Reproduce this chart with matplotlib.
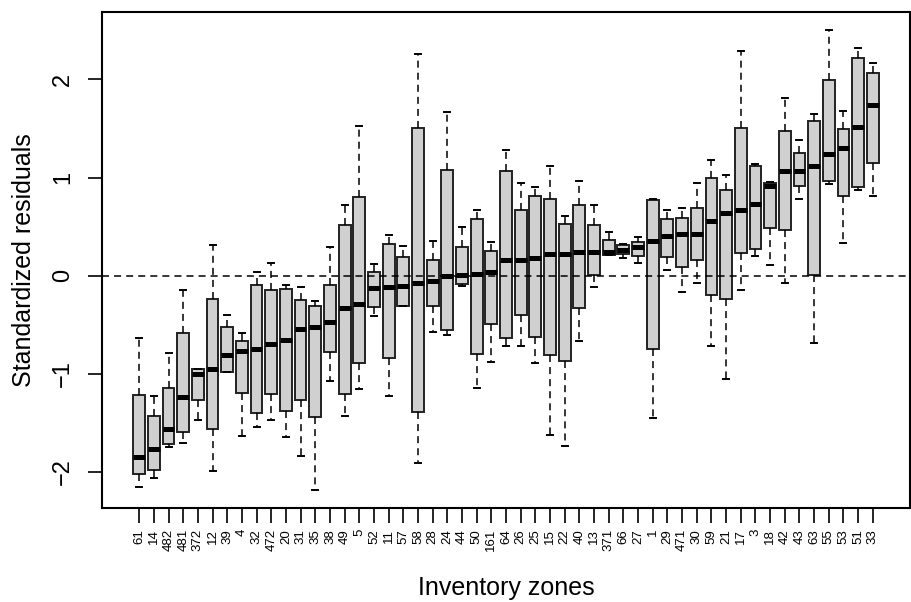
import matplotlib
matplotlib.use("Agg")
import matplotlib.pyplot as plt

plt.rcParams['font.family'] = ['Liberation Sans', 'DejaVu Sans']

zones = ["61", "14", "482", "481", "372", "12", "39", "4", "32", "472", "20", "31", "35",
         "38", "49", "5", "52", "11", "57", "58", "28", "24", "44", "50", "161", "64",
         "26", "25", "15", "22", "40", "13", "371", "66", "27", "1", "29", "471", "30",
         "59", "21", "17", "3", "18", "42", "43", "63", "55", "53", "51", "33"]

whisk_lo = [-2.15, -2.06, -1.75, -1.70, -1.47, -1.99, -0.98, -1.63, -1.54, -1.47, -1.64, -1.84, -2.18,
            -1.07, -1.43, -1.15, -0.41, -1.23, -0.31, -1.91, -0.57, -0.60, -0.11, -1.14, -0.88, -0.72,
            -0.72, -0.89, -1.62, -1.74, -0.67, -0.12, 0.21, 0.18, 0.13, -1.45, 0.06, -0.17, -0.07,
            -0.72, -1.05, -0.15, 0.20, 0.11, -0.07, 0.78, -0.69, 0.93, 0.33, 0.87, 0.81]
q1 = [-2.02, -1.98, -1.71, -1.59, -1.27, -1.56, -0.98, -1.20, -1.40, -1.21, -1.38, -1.27, -1.44,
      -0.78, -1.21, -0.89, -0.32, -0.84, -0.31, -1.39, -0.31, -0.55, -0.08, -0.80, -0.49, -0.63,
      -0.40, -0.62, -0.81, -0.87, -0.33, 0.01, 0.21, 0.22, 0.20, -0.75, 0.19, 0.09, 0.16,
      -0.20, -0.24, 0.23, 0.27, 0.49, 0.47, 0.91, 0.01, 0.97, 0.81, 0.90, 1.15]
medians = [-1.85, -1.77, -1.56, -1.24, -1.00, -0.95, -0.81, -0.77, -0.75, -0.70, -0.66, -0.54, -0.52,
           -0.47, -0.33, -0.29, -0.13, -0.12, -0.11, -0.07, -0.05, 0.00, 0.01, 0.02, 0.04, 0.16,
           0.16, 0.18, 0.22, 0.22, 0.24, 0.24, 0.24, 0.26, 0.29, 0.35, 0.40, 0.42, 0.42,
           0.56, 0.64, 0.67, 0.73, 0.91, 1.07, 1.07, 1.12, 1.24, 1.30, 1.52, 1.74]
q3 = [-1.22, -1.43, -1.14, -0.58, -0.95, -0.24, -0.52, -0.67, -0.09, -0.15, -0.14, -0.25, -0.31,
      -0.09, 0.52, 0.80, 0.04, 0.32, 0.19, 1.50, 0.16, 1.08, 0.29, 0.58, 0.25, 1.07,
      0.67, 0.81, 0.78, 0.53, 0.72, 0.52, 0.36, 0.31, 0.34, 0.77, 0.58, 0.59, 0.69,
      1.00, 0.87, 1.50, 1.12, 0.94, 1.47, 1.25, 1.58, 1.99, 1.49, 2.22, 2.07]
whisk_hi = [-0.63, -1.23, -0.79, -0.15, -0.95, 0.31, -0.40, -0.58, 0.04, 0.13, -0.09, -0.12, -0.26,
            0.29, 0.72, 1.53, 0.12, 0.41, 0.30, 2.26, 0.35, 1.67, 0.50, 0.67, 0.34, 1.28,
            0.94, 0.90, 1.12, 0.61, 0.97, 0.72, 0.45, 0.32, 0.39, 0.78, 0.67, 0.69, 0.94,
            1.18, 1.03, 2.29, 1.14, 0.95, 1.81, 1.38, 1.65, 2.50, 1.68, 2.32, 2.17]

yticks = [-2, -1, 0, 1, 2]

W, H = 911, 602
fig = plt.figure(figsize=(W / 100, H / 100), dpi=100)
ax = fig.add_axes([102 / W, 1 - 508 / H, 808 / W, 496 / H])

stats = []
for i, z in enumerate(zones):
    stats.append(dict(label=z, whislo=whisk_lo[i], q1=q1[i], med=medians[i],
                      q3=q3[i], whishi=whisk_hi[i], fliers=[]))
positions = list(range(1, len(zones) + 1))

dash = (0, (4.6, 3.3))
ax.bxp(stats, positions=positions, widths=0.8, patch_artist=True, showfliers=False,
       boxprops=dict(facecolor='#d0d0d0', edgecolor='#222222', linewidth=1.4),
       medianprops=dict(color='black', linewidth=3.6, solid_capstyle='butt'),
       whiskerprops=dict(color='black', linewidth=1.1, linestyle=dash),
       capprops=dict(color='black', linewidth=1.4))

ax.axhline(0, color='black', linewidth=1.1, linestyle=dash, zorder=10)

n = len(zones)
ax.set_xlim(0.5 - 0.04 * n, n + 0.5 + 0.04 * n)
ax.set_ylim(-2.367, 2.687)

ax.set_xticks(positions)
ax.set_xticklabels(zones, rotation=90, fontsize=9.5)
ax.set_yticks(yticks)
ax.set_yticklabels([str(t).replace('-', '\u2212') for t in yticks], rotation=90,
                   fontsize=17, va='center')
ax.tick_params(axis='x', length=11, width=1.2, pad=4)
ax.tick_params(axis='y', length=10, width=1.2, pad=10)
for sp in ax.spines.values():
    sp.set_linewidth(1.5)

fig.text(24 / W, 1 - 260 / H, "Standardized residuals", rotation=90, ha='center',
         va='center', fontsize=18)
fig.text(506 / W, 1 - 595 / H, "Inventory zones", ha='center', va='baseline', fontsize=18)

fig.savefig("out.png", dpi=100)
